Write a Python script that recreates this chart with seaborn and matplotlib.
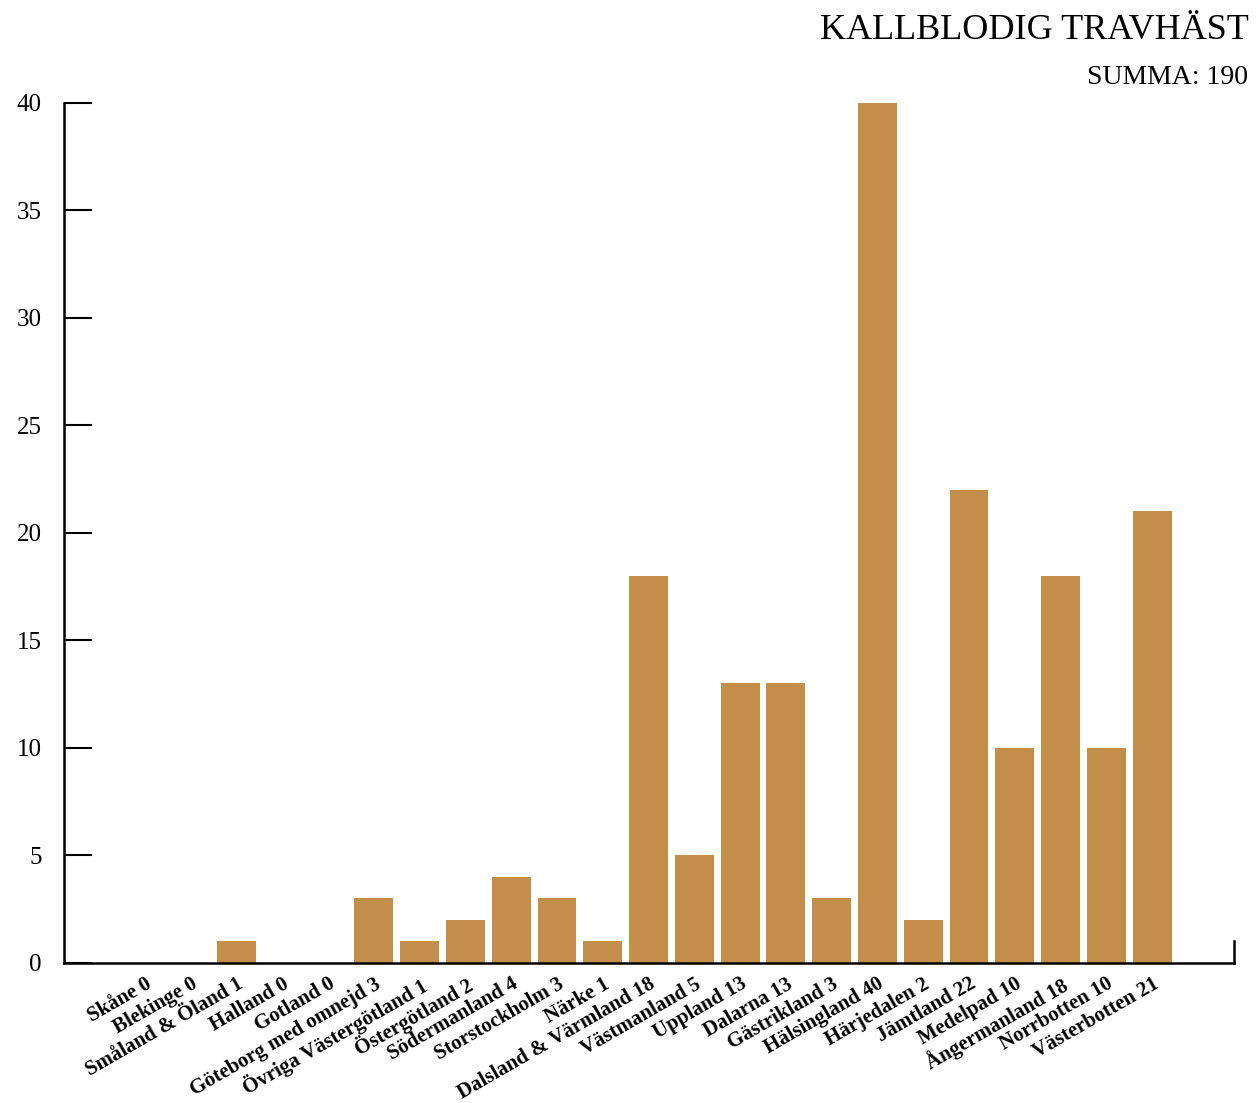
import matplotlib
matplotlib.use("Agg")
import matplotlib.pyplot as plt
import seaborn as sns
import pandas as pd

# landskap och antal kallblodiga travhästar
landskap = ["Skåne", "Blekinge", "Småland & Öland", "Halland", "Gotland",
            "Göteborg med omnejd", "Övriga Västergötland", "Östergötland",
            "Södermanland", "Storstockholm", "Närke", "Dalsland & Värmland",
            "Västmanland", "Uppland", "Dalarna", "Gästrikland", "Hälsingland",
            "Härjedalen", "Jämtland", "Medelpad", "Ångermanland", "Norrbotten",
            "Västerbotten"]
antal = [0, 0, 1, 0, 0, 3, 1, 2, 4, 3, 1, 18, 5, 13, 13, 3, 40, 2, 22, 10, 18, 10, 21]
y_ticks = [0, 5, 10, 15, 20, 25, 30, 35, 40]

df = pd.DataFrame({"landskap": landskap, "antal": antal})

sns.set_style("white")
plt.rcParams["font.family"] = ["Liberation Serif", "DejaVu Serif"]
plt.rcParams["text.color"] = "black"
plt.rcParams["xtick.color"] = "black"
plt.rcParams["ytick.color"] = "black"

fig = plt.figure(figsize=(12.56, 11.03), dpi=100)
ax = fig.add_axes([0.051, 0.127, 0.9315, 0.7797])

sns.barplot(data=df, x="landskap", y="antal", color="#c38d4a", saturation=1,
            width=0.85, edgecolor="none", ax=ax)

ax.set_xlim(-1.77, 23.79)
ax.set_ylim(0, 40)
ax.set_yticks(y_ticks)
ax.set_yticklabels([str(v) for v in y_ticks], fontsize=18)
ax.set_xticks(range(len(landskap)))
ax.set_xticklabels([f"{n} {v}" for n, v in zip(landskap, antal)],
                   rotation=30, ha="right", rotation_mode="anchor",
                   fontsize=15, fontweight="bold")
ax.tick_params(axis="y", left=True, direction="in", length=20, width=1.5, pad=16)
ax.tick_params(axis="x", bottom=False, length=0, pad=8)
ax.set_xlabel("")
ax.set_ylabel("")

for side in ["left", "bottom", "right"]:
    ax.spines[side].set_linewidth(1.8)
    ax.spines[side].set_color("black")
ax.spines["top"].set_visible(False)
ax.spines["right"].set_bounds(0, 1)

fig.text(0.994, 0.957, "KALLBLODIG TRAVHÄST", ha="right", va="bottom", fontsize=26)
fig.text(0.994, 0.918, "SUMMA: 190", ha="right", va="bottom", fontsize=20)

plt.savefig("out.png", dpi=100)
